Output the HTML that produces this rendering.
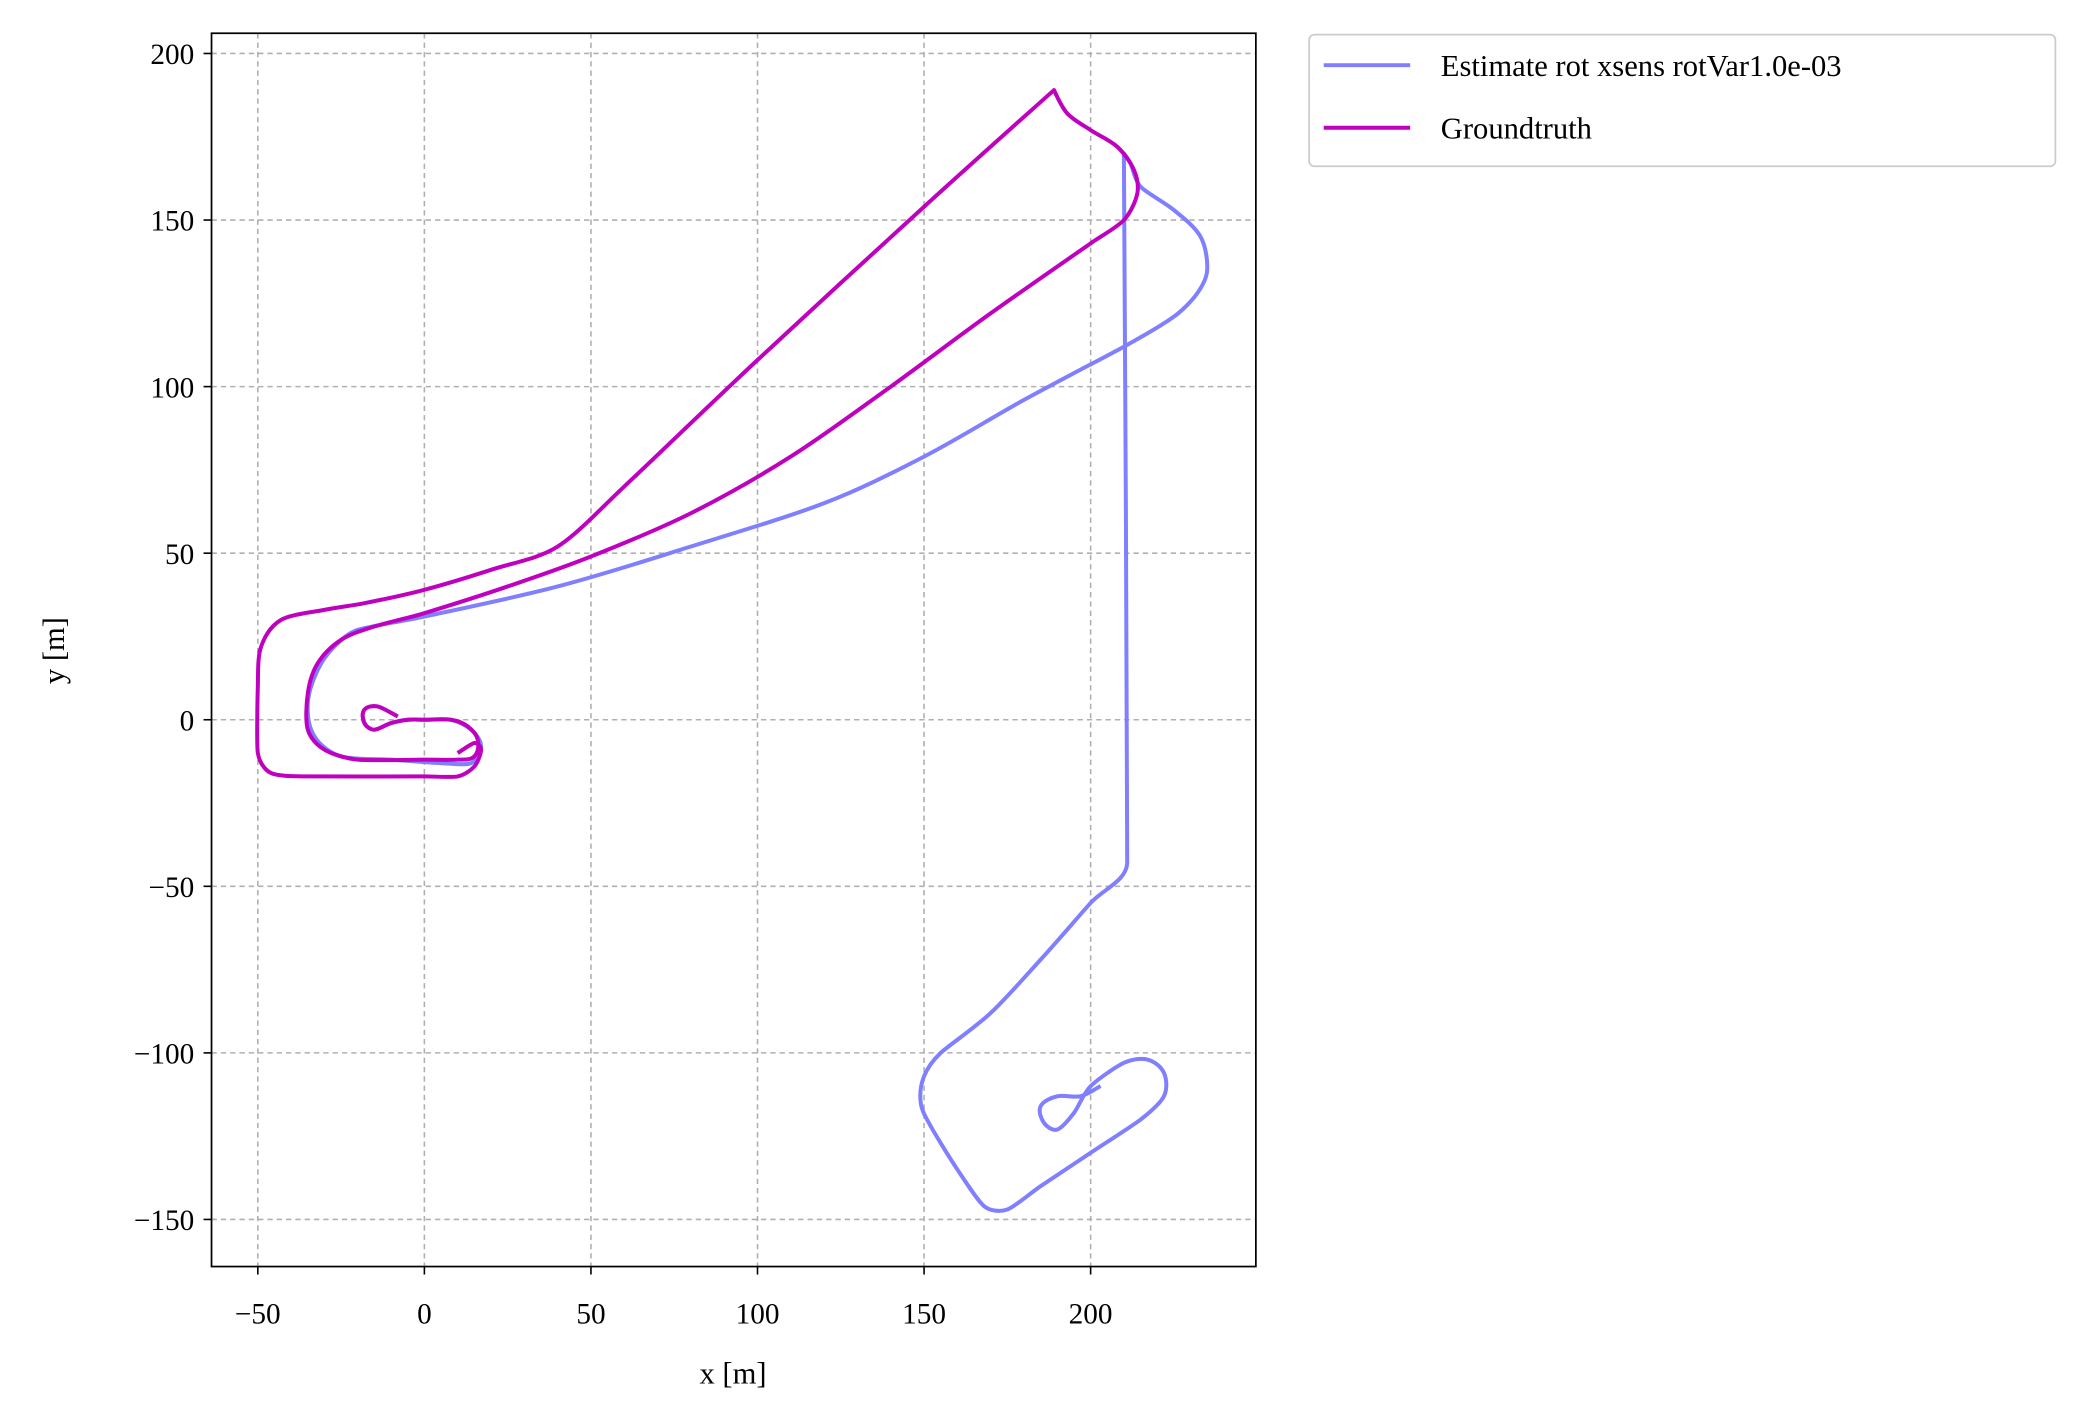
<!DOCTYPE html>
<html><head><meta charset="utf-8"><style>
html,body{margin:0;padding:0;background:#fff;}
svg{display:block;font-family:"Liberation Serif","DejaVu Serif",serif;}
</style></head><body>
<svg id="chart" width="2086" height="1423" viewBox="0 0 1568 1069.6" preserveAspectRatio="none" xmlns="http://www.w3.org/2000/svg">
<rect x="0" y="0" width="1568" height="1070" fill="#fff"/>
<g id="grid"></g>
<g id="series"></g>
<rect x="159" y="25" width="785" height="927" fill="none" stroke="#000" stroke-width="1.3"/>
<g id="ticks" font-size="22"></g>
<text x="551" y="1040" font-size="23" text-anchor="middle">x [m]</text>
<text transform="translate(48,489) rotate(-90)" font-size="23" text-anchor="middle">y [m]</text>
<g>
<rect x="984" y="26" width="561" height="99" rx="4" fill="#fff" stroke="#ccc" stroke-width="1.3"/>
<line x1="995" y1="49" x2="1060" y2="49" stroke="#7f7fff" stroke-width="3"/>
<text x="1083" y="57" font-size="23">Estimate rot xsens rotVar1.0e-03</text>
<line x1="995" y1="96" x2="1060" y2="96" stroke="#bf00bf" stroke-width="3"/>
<text x="1083" y="104" font-size="23">Groundtruth</text>
</g>
</svg>
<script>
const xTicks=[-50,0,50,100,150,200];
const yTicks=[-150,-100,-50,0,50,100,150,200];
const estX=[-8,-14,-18,-18,-15,-10,-5,0,8,14,17,14,5,-10,-25,-33,-35,-32,-27,-20,0,40,80,120,150,180,210,225,232,235,233,225,215,212,210,211,200,185,170,155,150,149,152,160,168,175,185,200,215,222,222,217,210,200,195,190,186,185,190,197,203];
const estY=[1,4,3,-1,-3,-1,0,0,0,-3,-8,-13,-13,-12,-11,-5,5,15,22,27,31,40,52,65,79,96,112,121,128,135,145,153,160,167,170,-43,-55,-72,-88,-100,-107,-115,-122,-135,-146,-147,-140,-130,-120,-113,-106,-102,-103,-110,-118,-123,-121,-116,-113,-113,-110];
const gtX=[-8,-14,-18,-18,-15,-10,-5,0,8,13,16,15,10,0,-20,-30,-35,-35,-32,-25,-15,0,25,50,80,110,140,170,200,210,214,213,208,200,193,189,150,100,60,40,20,0,-18,-30,-43,-49,-50,-50,-46,-35,0,10,15,17,15,10];
const gtY=[1,4,3,-1,-3,-1,0,0,0,-2,-6,-11,-12,-12,-12,-9,-3,8,17,24,28,32,40,49,62,79,100,122,143,150,158,165,172,177,182,189,154,108,70,52,45,39,35,33,30,22,10,-10,-16,-17,-17,-17,-14,-9,-7,-10];
const X0=319,Y0=541,S=2.504;
const sx=v=>X0+v*S, sy=v=>Y0-v*S;
const NS="http://www.w3.org/2000/svg";
const grid=document.getElementById('grid'),ticks=document.getElementById('ticks'),ser=document.getElementById('series');
function mk(tag,a,p){const e=document.createElementNS(NS,tag);for(const k in a)e.setAttribute(k,a[k]);p.appendChild(e);return e;}
const lab=v=>v<0?'\u2212'+(-v):String(v);
xTicks.forEach(v=>{const x=sx(v);
 const g=mk('line',{x1:x,y1:25,x2:x,y2:952,stroke:'#b0b0b0','stroke-width':1.2,'stroke-dasharray':'4,3'},grid);
 
 
 const t=mk('line',{x1:x,y1:952,x2:x,y2:958,stroke:'#000','stroke-width':1.2},ticks);
 
 
 const l=mk('text',{x:x,y:995,'text-anchor':'middle'},ticks);l.textContent=lab(v);
 
 
});
yTicks.forEach(v=>{const y=sy(v);
 const g=mk('line',{x1:159,y1:y,x2:944,y2:y,stroke:'#b0b0b0','stroke-width':1.2,'stroke-dasharray':'4,3'},grid);
 
 
 const t=mk('line',{x1:153,y1:y,x2:159,y2:y,stroke:'#000','stroke-width':1.2},ticks);
 
 
 const l=mk('text',{x:146,y:y+8,'text-anchor':'end'},ticks);l.textContent=lab(v);
 
 
});
function path(xs,ys){
 const P=xs.map((v,i)=>[sx(v),sy(ys[i])]);
 const n=P.length;
 const len=(a,b)=>Math.hypot(b[0]-a[0],b[1]-a[1]);
 const T=P.map((p,i)=>{
  const a=P[Math.max(i-1,0)],b=P[Math.min(i+1,n-1)];
  let m=Infinity;
  if(i>0)m=Math.min(m,len(a,p));
  if(i<n-1)m=Math.min(m,len(p,b));
  if(i>0&&i<n-1){
   const u=[p[0]-a[0],p[1]-a[1]],w=[b[0]-p[0],b[1]-p[1]];
   const c=(u[0]*w[0]+u[1]*w[1])/(Math.hypot(...u)*Math.hypot(...w)+1e-9);
   if(c<0.2)return [0,0];
  }
  const d=[b[0]-a[0],b[1]-a[1]],q=Math.hypot(...d)+1e-9;
  return [d[0]/q*m/3,d[1]/q*m/3];
 });
 let d='M'+P[0][0].toFixed(1)+','+P[0][1].toFixed(1);
 for(let i=0;i<n-1;i++){
  const p1=P[i],p2=P[i+1];
  const c1=[p1[0]+T[i][0],p1[1]+T[i][1]];
  const c2=[p2[0]-T[i+1][0],p2[1]-T[i+1][1]];
  d+='C'+c1[0].toFixed(1)+','+c1[1].toFixed(1)+' '+c2[0].toFixed(1)+','+c2[1].toFixed(1)+' '+p2[0].toFixed(1)+','+p2[1].toFixed(1);
 }
 return d;
}
const pe=mk('path',{d:path(estX,estY),fill:'none',stroke:'#7f7fff','stroke-width':3,'stroke-linejoin':'round'},ser);


const pg=mk('path',{d:path(gtX,gtY),fill:'none',stroke:'#bf00bf','stroke-width':3,'stroke-linejoin':'round'},ser);


</script>
</body></html>
